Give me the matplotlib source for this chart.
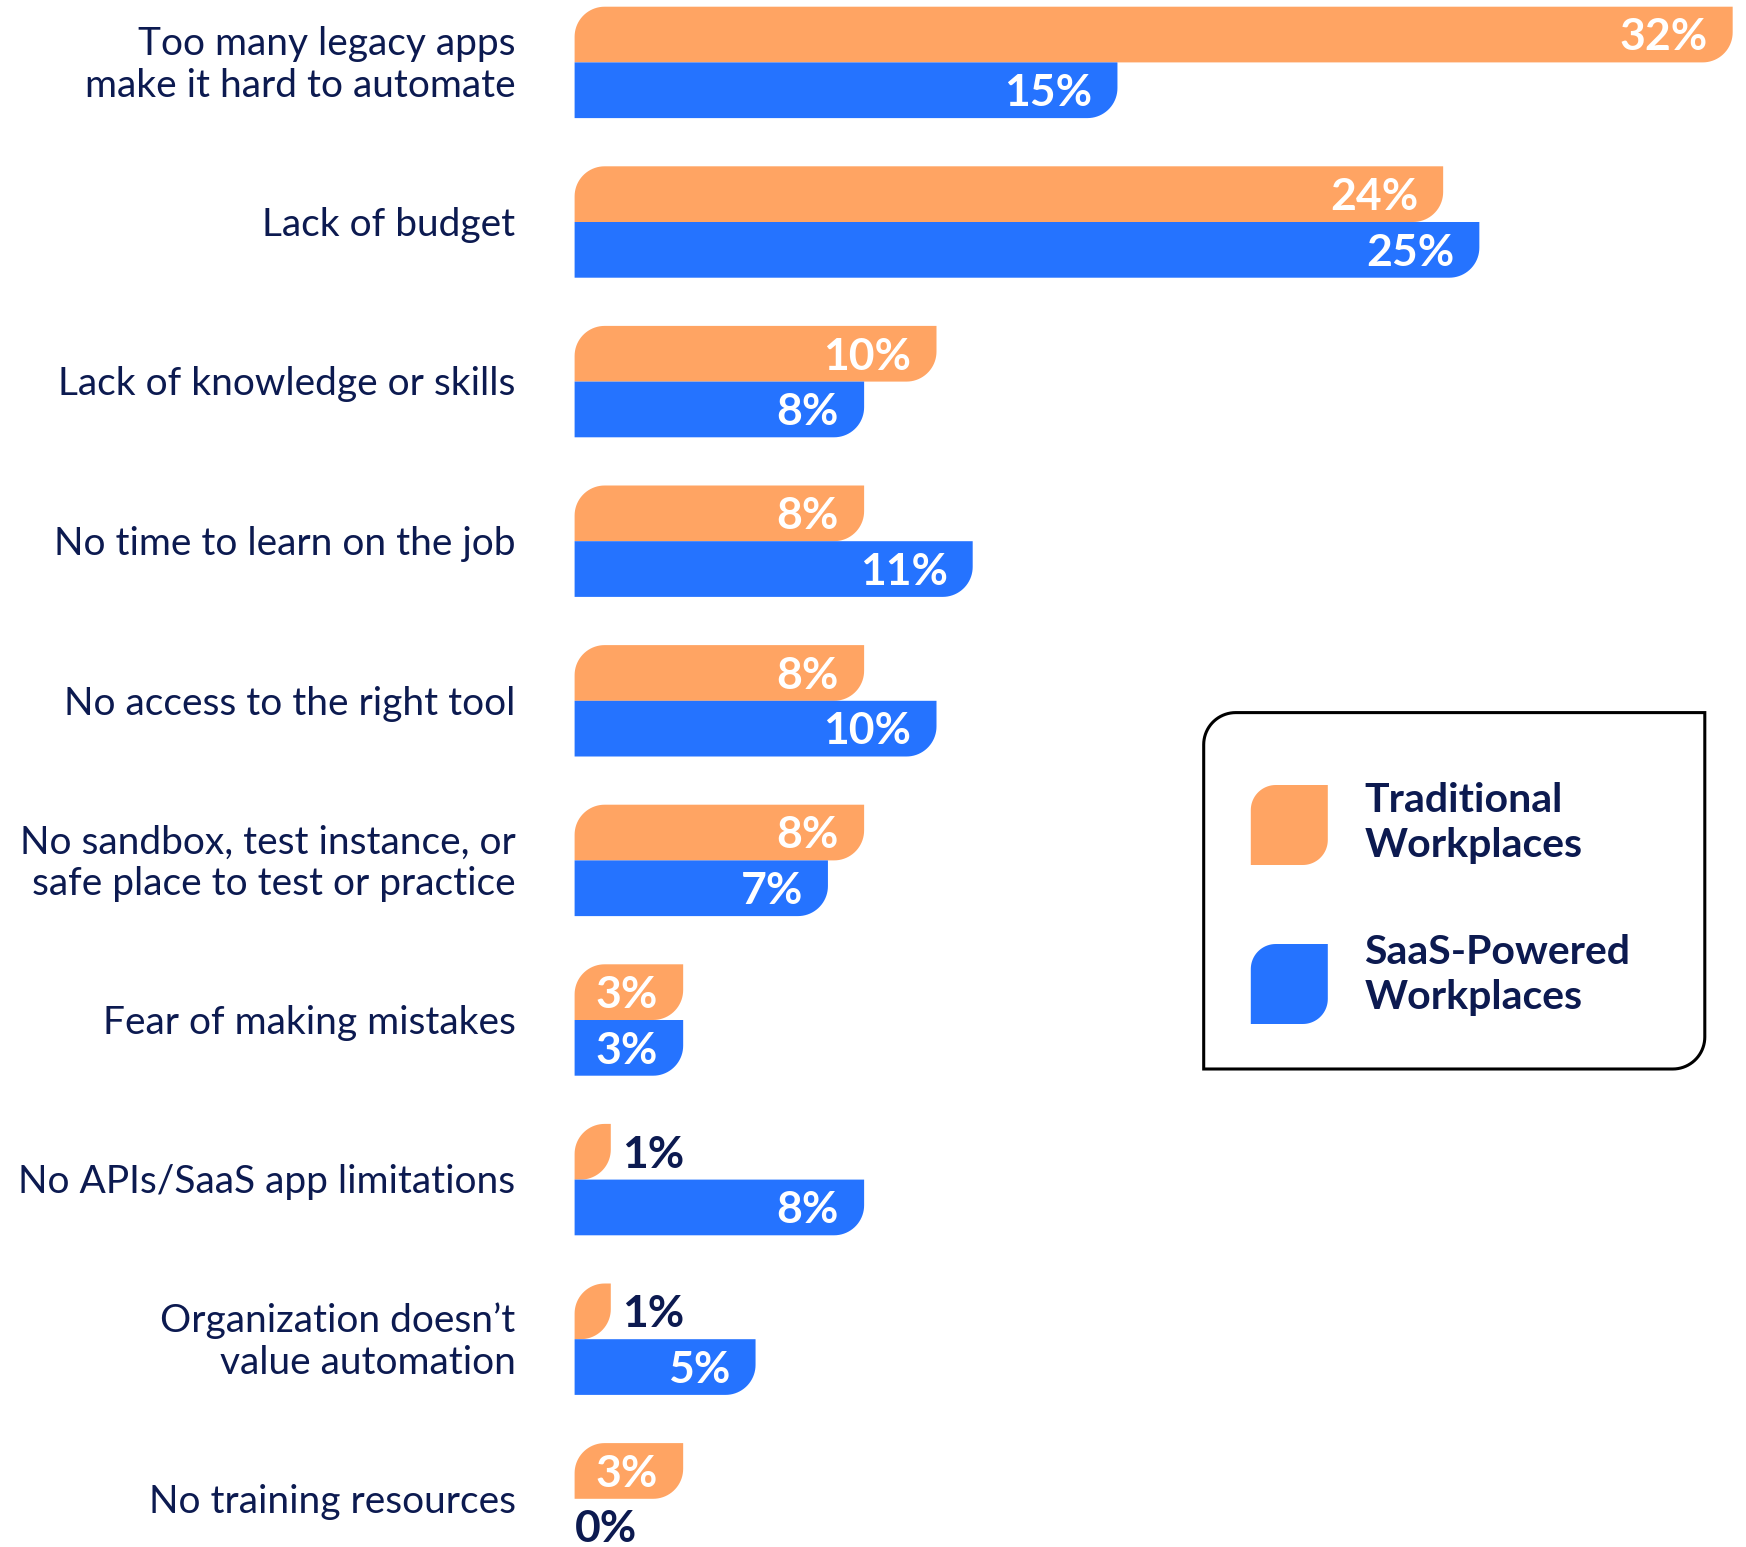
import matplotlib.pyplot as plt
import numpy as np
from matplotlib.patches import Polygon

plt.rcParams['font.family'] = ['Lato', 'DejaVu Sans']

# Survey answers: what stops people from automating
categories = [
    "Too many legacy apps\nmake it hard to automate",
    "Lack of budget",
    "Lack of knowledge or skills",
    "No time to learn on the job",
    "No access to the right tool",
    "No sandbox, test instance, or\nsafe place to test or practice",
    "Fear of making mistakes",
    "No APIs/SaaS app limitations",
    "Organization doesn\u2019t\nvalue automation",
    "No training resources",
]
traditional = [32, 24, 10, 8, 8, 8, 3, 1, 1, 3]
saas = [15, 25, 8, 11, 10, 7, 3, 8, 5, 0]
series_names = ["Traditional\nWorkplaces", "SaaS-Powered\nWorkplaces"]

ORANGE = '#FFA463'
BLUE = '#2573FF'
NAVY = '#0C1A50'

W, H = 1746, 1547
fig = plt.figure(figsize=(W / 100, H / 100), dpi=100)
ax = fig.add_axes([0, 0, 1, 1])
ax.axis('off')

# pixel layout: bars start at x=575, 36.2 px per percent, groups 159.6 px apart
x0_px, px_per_pct = 574.6, 36.19
y0_px, px_per_row = 62.4, 159.6
ax.set_xlim(-x0_px / px_per_pct, (W - x0_px) / px_per_pct)
ax.set_ylim((H - y0_px) / px_per_row, -y0_px / px_per_row)
bar_h = 55.7 / px_per_row


def arc(cx, cy, r, a0, a1):
    t = np.radians(np.linspace(a0, a1, 20))
    return np.column_stack([cx + r * np.cos(t), cy + r * np.sin(t)])


def leaf_outline(X0, X1, Yb, Yt, r, corners):
    # outline in display pixels, y up; corners is a set of 'bl','br','tr','tl'
    r = min(r, X1 - X0, Yt - Yb)
    pts = []
    if 'bl' in corners:
        pts.append(arc(X0 + r, Yb + r, r, 180, 270))
    else:
        pts.append([[X0, Yb]])
    if 'br' in corners:
        pts.append(arc(X1 - r, Yb + r, r, 270, 360))
    else:
        pts.append([[X1, Yb]])
    if 'tr' in corners:
        pts.append(arc(X1 - r, Yt - r, r, 0, 90))
    else:
        pts.append([[X1, Yt]])
    if 'tl' in corners:
        pts.append(arc(X0 + r, Yt - r, r, 90, 180))
    else:
        pts.append([[X0, Yt]])
    return np.vstack(pts)


def rounded_bar(ax, value, ytop, ybot, color, corners, r=30):
    if value <= 0:
        return
    (X0, Yt), (X1, Yb) = ax.transData.transform([(0, ytop), (value, ybot)])
    pix = leaf_outline(X0, X1, Yb, Yt, r, corners)
    verts = ax.transData.inverted().transform(pix)
    ax.add_patch(Polygon(verts, closed=True, facecolor=color, edgecolor='none'))


def value_label(ax, value, y, inside_color):
    if value >= 2:
        x, dx, ha, color = value, -18, 'right', inside_color
    elif value > 0:
        x, dx, ha, color = value, 8, 'left', NAVY
    else:
        x, dx, ha, color = 0, 0, 'left', NAVY
    ax.annotate(f"{value}%", (x, y), xytext=(dx, -2), textcoords='offset points',
                ha=ha, va='center', fontsize=32, fontweight='bold', color=color)


for i, (cat, t, s) in enumerate(zip(categories, traditional, saas)):
    rounded_bar(ax, t, i - bar_h, i, ORANGE, {'tl', 'br'})
    rounded_bar(ax, s, i, i + bar_h, BLUE, {'br'})
    value_label(ax, t, i - bar_h / 2, 'white')
    value_label(ax, s, i + bar_h / 2, 'white')
    ax.annotate(cat, (-59 / px_per_pct, i), xytext=(0, -2), textcoords='offset points',
                ha='right', va='center', fontsize=28, color=NAVY, linespacing=1.2)

# legend box, drawn in pixel space (y measured from the top)
def px_patch(x0, x1, ytop, ybot, r, corners, **kw):
    pix = leaf_outline(x0, x1, H - ybot, H - ytop, r, corners)
    verts = fig.transFigure.inverted().transform(pix)
    fig.add_artist(Polygon(verts, closed=True, transform=fig.transFigure, **kw))

px_patch(1203.7, 1704.8, 712.6, 1069, 32, {'tl', 'br'},
         facecolor='white', edgecolor='black', linewidth=2.2)

# (swatch colour, swatch top, baseline of the second text line)
swatches = [(ORANGE, 785, 857), (BLUE, 944, 1009)]
for name, (color, top, base) in zip(series_names, swatches):
    px_patch(1250.8, 1327.8, top, top + 80, 25, {'tl', 'br'},
             facecolor=color, edgecolor='none')
    fig.text(1364.5 / W, 1 - base / H, name, ha='left', va='baseline', fontsize=29.5,
             fontweight='bold', color=NAVY, linespacing=1.26)

fig.savefig('out.png', dpi=100)
